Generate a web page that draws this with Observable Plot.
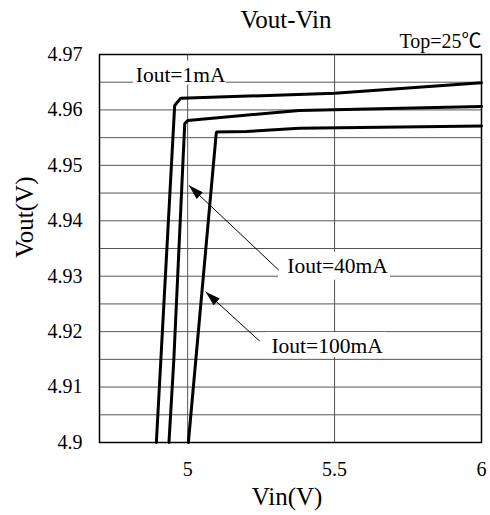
<!DOCTYPE html>
<html><head><meta charset="utf-8">
<script src="https://cdn.jsdelivr.net/npm/d3@7"></script>
<script src="https://cdn.jsdelivr.net/npm/@observablehq/plot@0.6"></script>
<style>html,body{margin:0;padding:0;background:#fff}svg{display:block}</style>
</head><body><div id="chart"></div>
<script>
// ---- data ----
const vin1mA   = [4.8935, 4.9558, 4.9762, 5.5, 6];
const vout1mA  = [4.900, 4.9608, 4.9621, 4.9630, 4.9649];
const vin40mA  = [4.9364, 4.9530, 4.9900, 5.0, 5.38, 6];
const vout40mA = [4.900, 4.9150, 4.9575, 4.9581, 4.9599, 4.9606];
const vin100mA  = [5.0024, 5.0976, 5.2, 5.38, 6];
const vout100mA = [4.900, 4.9560, 4.9561, 4.9567, 4.9571];

const xTicks = [5, 5.5, 6];
const yTicks = [4.9, 4.91, 4.92, 4.93, 4.94, 4.95, 4.96, 4.97];
const yGrid = [4.905, 4.91, 4.915, 4.92, 4.925, 4.93, 4.935, 4.94, 4.945, 4.95, 4.955, 4.96, 4.965];
const xGrid = [5, 5.5];

const labelText = ["Iout=1mA", "Iout=40mA", "Iout=100mA"];
const labelVin  = [4.976, 5.510, 5.4745];
const labelVout = [4.9663, 4.9318, 4.9173];

const arrowFromVin  = [5.310, 5.245];
const arrowFromVout = [4.9311, 4.9183];
const arrowToVin    = [5.004, 5.061];
const arrowToVout   = [4.9464, 4.9272];

const title = "Vout-Vin";
const note = "Top=25℃";
const xLabel = "Vin(V)";
const yLabel = "Vout(V)";

// ---- build ----
const series = [
  vin1mA.map((v, i) => ({vin: v, vout: vout1mA[i], s: "1mA"})),
  vin40mA.map((v, i) => ({vin: v, vout: vout40mA[i], s: "40mA"})),
  vin100mA.map((v, i) => ({vin: v, vout: vout100mA[i], s: "100mA"}))
].flat();
const arrows = arrowFromVin.map((v, i) => ({x1: v, y1: arrowFromVout[i], x2: arrowToVin[i], y2: arrowToVout[i]}));

const font = "'Liberation Serif', 'Times New Roman', serif";
const noteFont = "'Liberation Serif', 'Noto Sans CJK SC', serif";
const base = {
  width: 490, height: 515,
  marginLeft: 99, marginRight: 9, marginTop: 54, marginBottom: 73,
  x: {domain: [4.7, 6]},
  y: {domain: [4.9, 4.97]},
  style: {fontFamily: font, fontSize: "20px"}
};

const probe = Plot.plot({...base, marks: [Plot.frame()]});
const sx = probe.scale("x"), sy = probe.scale("y");
arrows.forEach(a => {
  const dx = sx.apply(a.x2) - sx.apply(a.x1);
  const dy = sy.apply(a.y2) - sy.apply(a.y1);
  a.angle = Math.atan2(dx, -dy) * 180 / Math.PI;
});

const headSymbol = {draw(ctx) { ctx.moveTo(0, 0); ctx.lineTo(4.5, 15); ctx.lineTo(-4.5, 15); ctx.closePath(); }};

const boxPad = [[-47, 46, -14, 10], [-59, 53, -14, 14], [-60, 60, -14, 11]];
const boxMarks = labelText.map((t, i) => Plot.rect([i], {
  x1: () => labelVin[i], x2: () => labelVin[i], y1: () => labelVout[i], y2: () => labelVout[i],
  fill: "white",
  insetLeft: boxPad[i][0], insetRight: -boxPad[i][1], insetTop: boxPad[i][2], insetBottom: -boxPad[i][3]
}));

const chart = Plot.plot({
  ...base,
  marks: [
    Plot.ruleY(yGrid, {stroke: "#555", strokeWidth: 1}),
    Plot.ruleX(xGrid, {stroke: "#555", strokeWidth: 1}),
    ...boxMarks,
    Plot.line(series, {x: "vin", y: "vout", z: "s", stroke: "black", strokeWidth: 3, strokeLinejoin: "miter"}),
    Plot.frame({stroke: "black", strokeWidth: 1.5}),
    Plot.axisX({ticks: xTicks, tickSize: 0, tickPadding: 19, tickFormat: d => `${d}`, label: null, fontSize: 20}),
    Plot.axisY({ticks: yTicks, tickSize: 0, tickPadding: 17, tickFormat: d => `${d}`, label: null, fontSize: 20}),
    Plot.text(labelText, {x: (d, i) => labelVin[i], y: (d, i) => labelVout[i], text: d => d, fontSize: 21.5, fill: "black"}),
    Plot.link(arrows, {x1: "x1", y1: "y1", x2: "x2", y2: "y2", stroke: "black", strokeWidth: 1}),
    Plot.dot(arrows, {x: "x2", y: "y2", rotate: "angle", symbol: headSymbol, fill: "black", stroke: "none", r: 5}),
    Plot.text([title], {frameAnchor: "top", lineAnchor: "middle", dy: -35, dx: -4.5, fontSize: 25, fill: "black"}),
    Plot.text([note], {frameAnchor: "top-right", lineAnchor: "middle", textAnchor: "end", dy: -12.5, fontSize: 20, fontFamily: noteFont, fill: "black"}),
    Plot.text([xLabel], {frameAnchor: "bottom", lineAnchor: "middle", dy: 54, dx: -3.5, fontSize: 25, fill: "black"}),
    Plot.text([yLabel], {frameAnchor: "left", lineAnchor: "middle", dx: -75, dy: 9.5, rotate: -90, fontSize: 25, fill: "black"})
  ]
});
document.getElementById("chart").appendChild(chart);
</script>
</body></html>
